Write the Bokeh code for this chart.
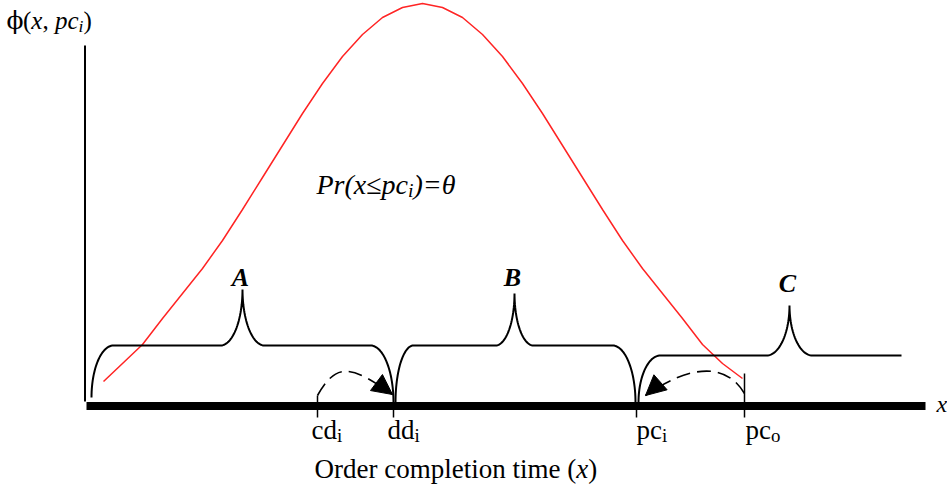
import numpy as np
from bokeh.plotting import figure
from bokeh.models import Range1d, Arrow, NormalHead
from bokeh.core.properties import value
from bokeh.embed import file_html
from bokeh.resources import INLINE

W, H = 947, 484

# Density phi(x, pc_i): height above the time axis at sampled completion times
curve_t = [103, 122, 142, 162, 182, 202, 222, 242, 262, 282, 302, 322, 342, 362, 382, 402,
           422, 442, 462, 482, 502, 522, 542, 562, 582, 602, 622, 642, 662, 682, 702, 722, 742]
curve_phi = [24, 42, 61, 87, 112, 137, 165, 196, 228, 260, 292, 322, 349, 371, 388, 398,
             402, 398, 388, 371, 349, 322, 292, 260, 228, 196, 165, 137, 112, 87, 61, 42, 27]

# Key times on the order-completion axis
time_names = ["cd", "dd", "pc", "pc"]
time_subs = ["i", "i", "i", "o"]
time_values = [317, 393, 636, 744]
axis_span = [86, 925]
axis_height = 360

# Regions A, B, C marked by braces over the axis
region_names = ["A", "B", "C"]
region_start = [91, 395, 638]
region_end = [393, 635, 901]
region_tip = [242, 514, 789]
region_level = [60, 60, 50]
region_peak = [116, 112, 100]

SERIF = "Liberation Serif"
ROMAN = {' ': .25, '(': .333, ')': .333, ',': .25, 'c': .444, 'd': .5, 'p': .5, 'o': .5,
         'i': .278, 'O': .722, 'r': .333, 'e': .444, 'm': .778, 'l': .278, 't': .278,
         'n': .5, 'ϕ': .66}
ITALIC = {'P': .611, 'r': .389, '(': .333, ')': .333, 'x': .444, 'p': .5, 'c': .444,
          'i': .278, '=': .675, '≤': .549, 'θ': .5, ',': .25, ' ': .25}

p = figure(width=W, height=H, x_range=Range1d(0, W), y_range=Range1d(-79, 405),
           min_border=0, toolbar_location=None, output_backend="svg",
           x_axis_location=None, y_axis_location=None)
p.grid.visible = False
p.outline_line_color = None
p.background_fill_color = "white"
p.border_fill_color = "white"


def rich(x, y, runs, size):
    """Draw a run of text pieces: (text, style, scale, baseline shift in em[, font])."""
    for run in runs:
        text, style, scale, dy = run[:4]
        font = run[4] if len(run) > 4 else SERIF
        sz = size * scale
        p.text(x=[x], y=[y + dy * size], text=[text], text_font=value(font),
               text_font_size=f"{sz:.1f}px", text_font_style=style,
               text_baseline="alphabetic", text_align="left", text_color="black")
        table = ITALIC if "italic" in style else ROMAN
        x += sum(table.get(ch, .5) for ch in text) * sz


# density curve
p.line(curve_t, curve_phi, line_color="#ff2424", line_width=1.5)

# vertical axis and thick time axis
p.segment(x0=[84.5], y0=[4], x1=[84.5], y1=[axis_height], line_color="black", line_width=2)
p.segment(x0=[axis_span[0]], y0=[-0.5], x1=[axis_span[1]], y1=[-0.5],
          line_color="black", line_width=8, line_cap="butt")


def quarter(cx, cy, rx, ry, t0, t1, n=30):
    t = np.linspace(t0, t1, n)
    return cx + rx * np.cos(t), cy + ry * np.sin(t)


def brace(x0, x1, level, tip, peak, hw, r0, r1, base0, base1, close_end=True):
    xs, ys = [], []
    a = quarter(x0 + r0, base0, r0, level - base0, np.pi, np.pi / 2)
    xs += list(a[0]); ys += list(a[1])
    b = quarter(tip - hw, peak, hw, peak - level, -np.pi / 2, 0)
    xs += list(b[0]); ys += list(b[1])
    c = quarter(tip + hw, peak, hw, peak - level, np.pi, 1.5 * np.pi)
    xs += list(c[0]); ys += list(c[1])
    if close_end:
        d = quarter(x1 - r1, base1, r1, level - base1, np.pi / 2, 0)
        xs += list(d[0]); ys += list(d[1])
    else:
        xs.append(x1); ys.append(level)
    p.line(xs, ys, line_color="black", line_width=2)


brace(region_start[0], region_end[0], region_level[0], region_tip[0], region_peak[0], 22, 22, 23, 8, 3)
brace(region_start[1], region_end[1], region_level[1], region_tip[1], region_peak[1], 19, 18, 23, 3, 3)
brace(region_start[2], region_end[2], region_level[2], region_tip[2], region_peak[2], 23, 22, 0, 3, 3,
      close_end=False)

label_peak_gap = [12, 16, 22]
for name, tip, peak, gap in zip(region_names, region_tip, region_peak, label_peak_gap):
    p.text(x=[tip - 2], y=[peak + gap], text=[name], text_font=value(SERIF),
           text_font_size="26px", text_font_style="bold italic",
           text_baseline="alphabetic", text_align="center", text_color="black")

# ticks and labels for the key times
tick_top = [10, 3, 3, 32]
label_dx = [-6, -6, 0, 1]
for name, sub, t, top, dx in zip(time_names, time_subs, time_values, tick_top, label_dx):
    p.segment(x0=[t], y0=[top], x1=[t], y1=[-12], line_color="black", line_width=1.5)
    rich(t + dx, -24, [(name, "normal", 1, 0), (sub, "normal", .7, -.22)], 27)

# dashed shifts cd_i -> dd_i and pc_o -> pc_i
cd, dd, pci, pco = time_values
arcs = [
    (cd, 10, dd - 1, 11, cd + 20, 46, dd - 40, 38, (13.4, -10)),
    (pco, 12, pci + 9, 10, pco - 20, 46, pci + 49, 38, (-13.3, -11.7)),
]
for x0, y0, x1, y1, c0x, c0y, c1x, c1y, (ux, uy) in arcs:
    p.bezier(x0=[x0], y0=[y0], x1=[x1], y1=[y1], cx0=[c0x], cy0=[c0y], cx1=[c1x], cy1=[c1y],
             line_color="black", line_width=1.6, line_dash="14 7")
    p.add_layout(Arrow(end=NormalHead(size=20, fill_color="black", line_color="black", line_width=1),
                       x_start=x1 - ux, y_start=y1 - uy, x_end=x1, y_end=y1, line_alpha=0))

# texts
rich(6, 405 - 20, [("ϕ", "normal", 1, 0, "DejaVu Serif"), ("(", "normal", 1, 0),
                   ("x", "italic", 1, 0), (", ", "normal", 1, 0),
                   ("pc", "italic", 1, 0), ("i", "italic", .7, -.2), (")", "normal", 1, 0)], 25)
rich(316, 405 - 184, [("Pr(x≤pc", "italic", 1, 0), ("i", "italic", .7, -.2),
                      (")=θ", "italic", 1, 0)], 28)
rich(936, 405 - 403, [("x", "italic", 1, 0)], 24)
rich(314, 405 - 468, [("Order completion time (", "normal", 1, 0), ("x", "italic", 1, 0),
                      (")", "normal", 1, 0)], 27)

open("out.html", "w").write(file_html(p, INLINE))
